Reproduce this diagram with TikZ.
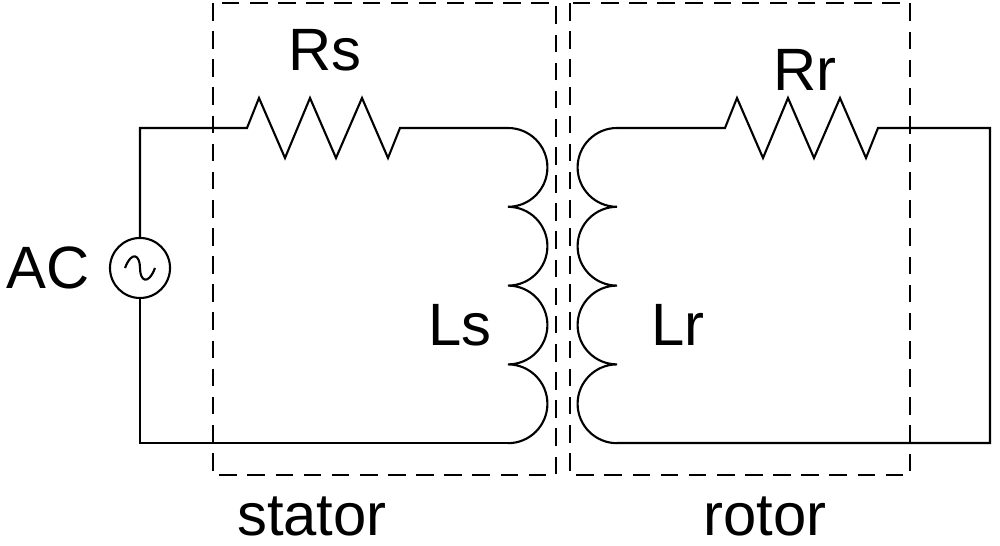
\documentclass[tikz,border=0pt]{standalone}
\usepackage{fontspec}
\setmainfont{Liberation Sans}
\begin{document}
\begin{tikzpicture}[x=0.01cm,y=-0.01cm,
  wire/.style={line width=0.6pt},
  box/.style={dashed,line width=0.6pt,dash pattern=on 5pt off 3pt},
  lbl/.style={font=\fontsize{17}{19}\selectfont,inner sep=0pt}]
\useasboundingbox (0,0) rectangle (1000,546);
% dashed boxes
\draw[box] (213,3) rectangle (556,475);
\draw[box] (570,3) rectangle (910,475);
% AC source
\node[circle,draw,line width=0.6pt,minimum size=0.6cm,inner sep=0pt] (ac) at (140,268) {};
\draw[line width=0.6pt] (125,268) .. controls (132,250) and (140,255) .. (140,268) .. controls (140,281) and (148,286) .. (155,268);
\node[lbl] (acl) at (48,268) {AC};
% coordinates
\coordinate (tl) at (140,128);
\coordinate (bl) at (140,443);
\coordinate (rs1) at (247,128);
\coordinate (rs2) at (400,128);
\coordinate (ls1) at (508,128);
\coordinate (ls2) at (508,443);
\coordinate (lr1) at (617,128);
\coordinate (lr2) at (617,443);
\coordinate (rr1) at (725,128);
\coordinate (rr2) at (878,128);
\coordinate (tr) at (990,128);
\coordinate (br) at (990,443);
% left loop
\draw[wire] (ac.north) -- (tl) -- (rs1) -- ++(12,-30) -- ++(26,60) -- ++(25,-60) -- ++(26,60) -- ++(26,-60) -- ++(26,60) -- (rs2) -- (ls1);
\draw[wire] (ls1) arc[start angle=-90,end angle=90,radius=39.4]
  arc[start angle=-90,end angle=90,radius=39.4]
  arc[start angle=-90,end angle=90,radius=39.4]
  arc[start angle=-90,end angle=90,radius=39.4];
\draw[wire] (ls2) -- (bl) -- (ac.south);
% right loop
\draw[wire] (lr1) -- (rr1) -- ++(12,-30) -- ++(26,60) -- ++(25,-60) -- ++(26,60) -- ++(26,-60) -- ++(26,60) -- (rr2) -- (tr) -- (br) -- (lr2);
\draw[wire] (lr1) arc[start angle=-90,end angle=-270,radius=39.4]
  arc[start angle=-90,end angle=-270,radius=39.4]
  arc[start angle=-90,end angle=-270,radius=39.4]
  arc[start angle=-90,end angle=-270,radius=39.4];
% labels
\node[lbl] (rsl) at (325,50) {Rs};
\node[lbl] (rrl) at (805,70) {Rr};
\node[lbl] (lsl) at (460,325) {Ls};
\node[lbl] (lrl) at (678,325) {Lr};
\node[lbl] (st) at (312,516) {stator};
\node[lbl] (ro) at (765,516) {rotor};
\end{tikzpicture}
\end{document}
